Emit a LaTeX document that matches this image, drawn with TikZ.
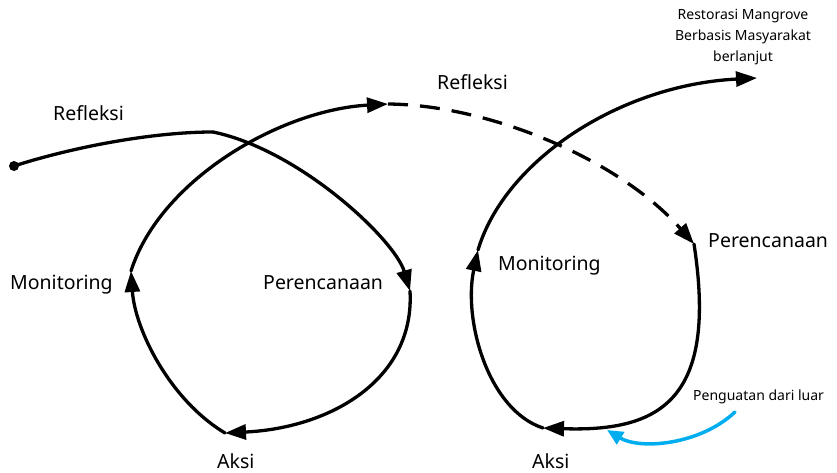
\documentclass[tikz,border=0pt]{standalone}
\usepackage{fontspec}
\setmainfont{Noto Sans}
\usetikzlibrary{arrows.meta}
\tikzset{
  lbl/.style={font=\fontsize{19.5}{22}\selectfont, inner sep=0pt, anchor=base west},
  small/.style={font=\fontsize{14}{21}\selectfont, inner sep=0pt, anchor=base},
  flow/.style={line width=3.3pt, line cap=round, -{Triangle[length=21pt,width=15pt]}},
  plain/.style={line width=3.3pt, line cap=round},
  dashline/.style={line width=3.3pt, dash pattern=on 20pt off 12pt, -{Triangle[length=21pt,width=15pt]}},
  bluearrow/.style={line width=3.5pt, line cap=round, draw={rgb,255:red,0;green,174;blue,239}, -{Triangle[length=16pt,width=14pt]}}
}
\begin{document}
\begin{tikzpicture}[x=1pt,y=-1pt]
\useasboundingbox (0,0) rectangle (837,473);
% coordinates
\coordinate (s) at (14,166);
\coordinate (c) at (213,132);
\coordinate (p1) at (410,291);
\coordinate (a1) at (225,433);
\coordinate (m1) at (131,271);
\coordinate (r) at (388,104);
\coordinate (p2) at (694,244);
\coordinate (a2) at (543,428);
\coordinate (m2) at (478,250);
\coordinate (e) at (757,78);
\coordinate (bs) at (735,412);
\coordinate (bt) at (607,430);
% labels
\node[lbl] (refl1) at (53,121) {Refleksi};
\node[lbl] (mon1) at (10,289) {Monitoring};
\node[lbl] (per1) at (263,289) {Perencanaan};
\node[lbl] (aksi1) at (217,468) {Aksi};
\node[lbl] (refl2) at (437,90) {Refleksi};
\node[lbl] (mon2) at (498,270) {Monitoring};
\node[lbl] (per2) at (708,247) {Perencanaan};
\node[lbl] (aksi2) at (532,468) {Aksi};
\node[small, anchor=base west] (peng) at (693,400) {Penguatan dari luar};
\node[small] (t1) at (743,20) {Restorasi Mangrove};
\node[small] (t2) at (743,41) {Berbasis Masyarakat};
\node[small] (t3) at (743,62) {berlanjut};
% dot
\fill (s) circle (5pt);
% left loop
\draw[plain] (s) .. controls (70,148) and (150,132) .. (c);
\draw[flow] (c) .. controls (300,150) and (395,240) .. (p1);
\draw[flow] (p1) .. controls (415,380) and (330,428) .. (a1);
\draw[flow] (a1) .. controls (170,400) and (135,330) .. (m1);
\draw[flow] (m1) .. controls (160,180) and (280,110) .. (r);
% dashed link
\draw[dashline] (r) .. controls (490,105) and (620,160) .. (p2);
% right loop
\draw[flow] (p2) .. controls (718,400) and (660,432) .. (a2);
\draw[flow] (a2) .. controls (488,410) and (463,320) .. (m2);
\draw[flow] (m2) .. controls (505,160) and (620,85) .. (e);
% external support
\draw[bluearrow] (bs) .. controls (700,445) and (640,450) .. (bt);
\end{tikzpicture}
\end{document}
